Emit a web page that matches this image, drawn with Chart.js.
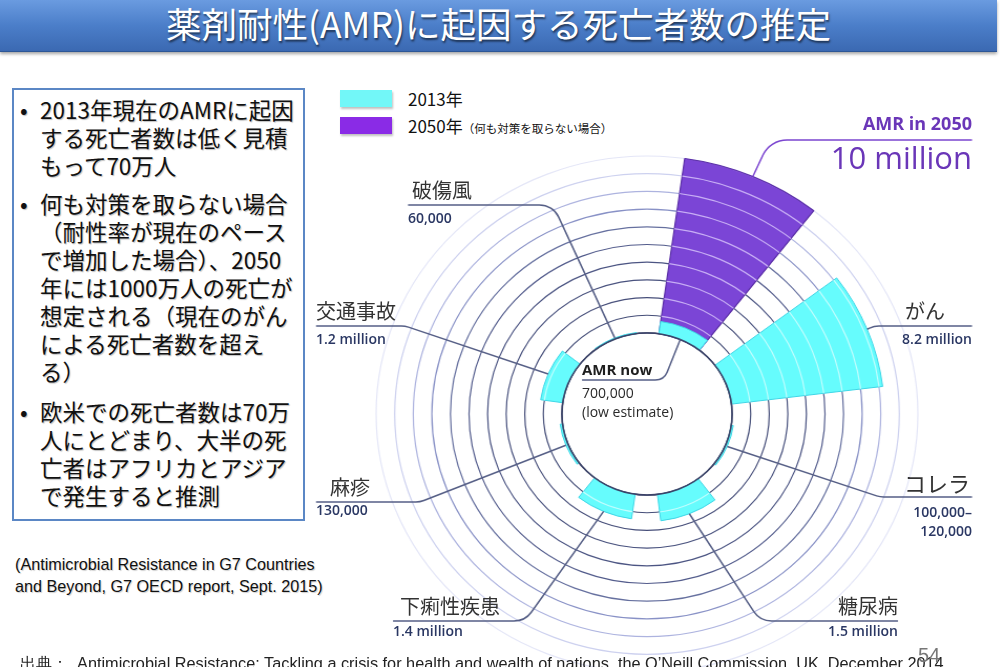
<!DOCTYPE html>
<html lang="ja">
<head>
<meta charset="utf-8">
<script src="https://cdn.jsdelivr.net/npm/chart.js@4.4.0/dist/chart.umd.min.js"></script>
<style>
html,body{margin:0;padding:0;}
body{width:1000px;height:667px;overflow:hidden;position:relative;background:#fff;font-family:"Noto Sans CJK JP","Noto Sans",sans-serif;}
#title{position:absolute;left:0;top:0;width:997px;height:51px;background:linear-gradient(#6a9be0,#4b7ec9 50%,#3b69b2);border-bottom:1px solid #2d5797;box-shadow:0 2px 3px rgba(0,0,0,0.35);color:#fff;font-size:35.5px;line-height:46px;text-align:center;text-shadow:1px 2px 2px rgba(0,0,0,0.55);white-space:nowrap;}
#box{position:absolute;left:12px;top:88px;width:289px;height:429px;border:2px solid #5b87c5;}
#box .it{position:absolute;left:26px;font-size:22.5px;line-height:28px;color:#111;white-space:nowrap;text-shadow:1px 1px 1px rgba(0,0,0,0.25);}
#box .bul{position:absolute;left:-20px;top:0;}
#cite{position:absolute;left:15px;top:553px;font-family:"Liberation Sans Narrow","Liberation Sans",sans-serif;font-size:16.2px;line-height:22px;color:#111;white-space:nowrap;text-shadow:1px 1px 1px rgba(0,0,0,0.2);}
#foot{position:absolute;left:20px;top:652px;font-family:"Liberation Sans Narrow","Liberation Sans",sans-serif;font-size:16.3px;line-height:22px;color:#222;white-space:nowrap;}
#page{position:absolute;left:918px;top:644px;font-family:"Liberation Sans",sans-serif;font-size:20px;color:#777;}
.lg{position:absolute;left:340px;width:52px;height:17px;box-shadow:1px 2px 2px rgba(0,0,0,0.25);}
.lgt{position:absolute;left:408px;font-size:17px;line-height:20px;color:#111;white-space:nowrap;}
.lgt small{font-size:11.5px;}
#wrap{position:absolute;left:300px;top:80px;width:694px;height:620px;transform:scaleX(1.05);transform-origin:50% 50%;}
.nm{position:absolute;font-size:20px;line-height:24px;color:#333;white-space:nowrap;}
.vl{position:absolute;font-family:"Open Sans",sans-serif;font-weight:600;font-size:14px;line-height:18px;color:#2a3763;white-space:nowrap;}
</style>
</head>
<body>
<div id="title">薬剤耐性(AMR)に起因する死亡者数の推定</div>

<div id="box">
  <div class="it" style="top:5px"><span class="bul">•</span>2013年現在のAMRに起因<br>する死亡者数は低く見積<br>もって70万人</div>
  <div class="it" style="top:99px"><span class="bul">•</span>何も対策を取らない場合<br>（耐性率が現在のペース<br>で増加した場合）、2050<br>年には1000万人の死亡が<br>想定される（現在のがん<br>による死亡者数を超え<br>る）</div>
  <div class="it" style="top:307px"><span class="bul">•</span>欧米での死亡者数は70万<br>人にとどまり、大半の死<br>亡者はアフリカとアジア<br>で発生すると推測</div>
</div>

<div id="cite">(Antimicrobial Resistance in G7 Countries<br>and Beyond, G7 OECD report, Sept. 2015)</div>

<div class="lg" style="top:90px;background:#72f7f8"></div>
<div class="lgt" style="top:89px">2013年</div>
<div class="lg" style="top:117px;background:#8a2be6"></div>
<div class="lgt" style="top:116px">2050年<small>（何も対策を取らない場合）</small></div>

<div id="wrap"><canvas id="c"></canvas></div>
<div id="labels"></div>

<div id="foot">出典：&nbsp; Antimicrobial Resistance: Tackling a crisis for health and wealth of nations, the O’Neill Commission, UK, December 2014</div>
<div id="page">54</div>

<script>
// ---------- data (deaths, millions) ----------
const categories   = ['AMR', 'がん', 'コレラ', '糖尿病', '下痢性疾患', '麻疹', '交通事故', '破傷風'];
const deaths2013   = [0.7, 8.2, 0.11, 1.5, 1.4, 0.13, 1.2, 0.06];
const deaths2050   = [10, 0, 0, 0, 0, 0, 0, 0];
const valueLabels  = ['700,000', '8.2 million', '100,000–\n120,000', '1.5 million', '1.4 million', '130,000', '1.2 million', '60,000'];
const ringTicks    = [0, 1, 2, 3, 4, 5, 6, 7, 8, 9, 10];

// ---------- layout / style ----------
const STRETCH = 1.05, WRAP_LEFT = 300, WRAP_TOP = 80, WRAP_W = 694;
const HOLE = -4.58;             // scale minimum so that value 0 sits on the inner circle
const SEG_ANGLE = 30, GAP_ANGLE = 15, START_ANGLE = 8;
const CYAN = '#66fcfd', CYAN_EDGE = '#3fd6e6', PURPLE = '#7b45d6', PURPLE_EDGE = '#5a2ea6';
const ringColors = ['#3b4368', '#454e78', '#474f7a', '#49527e', '#4c5583', '#535c8c', '#66709f', '#8891c6', '#adb3df', '#cdd1ef', '#e4e6f7'];

// label layout (page coordinates): underline y, outer end x, elbow x
const labelLayout = [
  {side: 'L', y: 380, xa: 582, ex: 664, nx: 582, ny: 358, vy: 383, special: 'now'},
  {side: 'R', y: 326, xa: 972, ex: 874, nx: 945, ny: 299, vy: 330},
  {side: 'R', y: 497, xa: 972, ex: 880, nx: 970, ny: 470, vy: 502},
  {side: 'R', y: 621, xa: 898, ex: 760, nx: 898, ny: 594, vy: 622},
  {side: 'L', y: 621, xa: 393, ex: 525, nx: 400, ny: 594, vy: 622},
  {side: 'L', y: 502, xa: 316, ex: 420, nx: 330, ny: 475, vy: 501},
  {side: 'L', y: 326, xa: 316, ex: 405, nx: 316, ny: 299, vy: 330},
  {side: 'L', y: 205, xa: 408, ex: 553, nx: 412, ny: 178, vy: 209}
];
const amr2050Layout = {y: 140, xa: 972, ex: 770};

// ---------- build slots (segment + gap) ----------
const slotLabels = [], slot2013 = [], slot2050 = [], slotAngles = [];
categories.forEach((c, i) => {
  slotLabels.push(c); slot2013.push(deaths2013[i]); slot2050.push(deaths2050[i]); slotAngles.push(SEG_ANGLE);
  slotLabels.push(''); slot2013.push(0); slot2050.push(0); slotAngles.push(GAP_ANGLE);
});
const isGap = ctx => ctx.dataIndex % 2 === 1;

function toCanvas(px, py) {
  return [WRAP_W / 2 + (px - (WRAP_LEFT + WRAP_W / 2)) / STRETCH, py - WRAP_TOP];
}

// ---------- html labels ----------
const lab = document.getElementById('labels');
function addDiv(cls, txt, x, y, side, extra) {
  const d = document.createElement('div');
  d.className = cls; d.innerHTML = txt.replace('\n', '<br>');
  d.style.top = y + 'px';
  if (side === 'R') { d.style.right = (1000 - x) + 'px'; d.style.textAlign = 'right'; }
  else d.style.left = x + 'px';
  if (extra) Object.assign(d.style, extra);
  lab.appendChild(d);
}
labelLayout.forEach((L, i) => {
  if (L.special === 'now') {
    addDiv('vl', 'AMR now', 582, 360, 'L', {fontWeight: '700', fontSize: '15px', color: '#1e1e1e'});
    addDiv('vl', valueLabels[0] + '\n(low estimate)', 582, 383, 'L', {fontWeight: '500', color: '#2a2a2a', lineHeight: '19px'});
    return;
  }
  addDiv('nm', categories[i], L.nx, L.ny, L.side, i === 2 ? {fontSize: '22px'} : null);
  addDiv('vl', valueLabels[i], L.xa, L.vy, L.side, i === 2 ? {lineHeight: '19px'} : null);
});
addDiv('vl', 'AMR in 2050', 972, 112, 'R', {fontWeight: '700', fontSize: '18px', lineHeight: '22px', color: '#6a36b8'});
addDiv('vl', '10 million', 972, 139, 'R', {fontWeight: '400', fontSize: '31px', lineHeight: '36px', color: '#6a36b8'});

// ---------- plugins ----------
const holePlugin = {
  id: 'hole',
  afterDatasetsUpdate(chart) {
    const r0 = chart.scales.r.getDistanceFromCenterForValue(0);
    chart.data.datasets.forEach((ds, d) => {
      chart.getDatasetMeta(d).data.forEach(el => { el.innerRadius = r0; });
    });
  },
  afterDatasetsDraw(chart) {
    const ctx = chart.ctx, sc = chart.scales.r;
    const cx = sc.xCenter, cy = sc.yCenter;
    // light ring lines seen through the filled segments
    [1, 0].forEach(d => {
      chart.getDatasetMeta(d).data.forEach((el, i) => {
        if (i % 2 === 1 || el.outerRadius - el.innerRadius < 3) return;
        ctx.save();
        ctx.beginPath();
        ctx.arc(cx, cy, el.outerRadius - 1, el.startAngle, el.endAngle);
        ctx.arc(cx, cy, el.innerRadius + 1, el.endAngle, el.startAngle, true);
        ctx.closePath();
        ctx.clip();
        ctx.strokeStyle = d === 1 ? 'rgba(225,210,255,0.75)' : 'rgba(255,255,255,0.6)';
        ctx.lineWidth = 1.2;
        ringTicks.slice(1).forEach(v => {
          ctx.beginPath();
          ctx.arc(cx, cy, sc.getDistanceFromCenterForValue(v), 0, Math.PI * 2);
          ctx.stroke();
        });
        ctx.restore();
      });
    });
    // inner circle
    ctx.save();
    ctx.strokeStyle = ringColors[0];
    ctx.lineWidth = 1.6;
    ctx.beginPath();
    ctx.arc(cx, cy, sc.getDistanceFromCenterForValue(0), 0, Math.PI * 2);
    ctx.stroke();
    ctx.restore();

    // leader lines
    const m13 = chart.getDatasetMeta(0), m50 = chart.getDatasetMeta(1);
    function target(el, useInner) {
      const a = (el.startAngle + el.endAngle) / 2;
      const r = useInner ? el.innerRadius : el.outerRadius;
      return [cx + Math.cos(a) * r, cy + Math.sin(a) * r];
    }
    function leader(L, tgt, color, rad) {
      const a = toCanvas(L.xa, L.y), e = toCanvas(L.ex, L.y);
      ctx.save();
      ctx.strokeStyle = color; ctx.lineWidth = 1.5;
      ctx.beginPath();
      ctx.moveTo(a[0], a[1]);
      ctx.arcTo(e[0], e[1], tgt[0], tgt[1], rad);
      ctx.lineTo(tgt[0], tgt[1]);
      ctx.stroke();
      ctx.restore();
    }
    labelLayout.forEach((L, i) => {
      const el = m13.data[i * 2];
      const useInner = L.special === 'now';
      leader(L, target(el, useInner), '#565f86', useInner ? 12 : 20);
    });
    leader(amr2050Layout, target(m50.data[0], false), '#7b45d0', 25);
  }
};

new Chart(document.getElementById('c'), {
  type: 'polarArea',
  data: {
    labels: slotLabels,
    datasets: [
      {
        label: '2013年',
        data: slot2013,
        angle: ctx => slotAngles[ctx.dataIndex],
        backgroundColor: ctx => isGap(ctx) ? 'rgba(0,0,0,0)' : CYAN,
        borderColor: ctx => isGap(ctx) ? 'rgba(0,0,0,0)' : CYAN_EDGE,
        borderWidth: ctx => isGap(ctx) ? 0 : 1
      },
      {
        label: '2050年',
        data: slot2050,
        angle: ctx => slotAngles[ctx.dataIndex],
        backgroundColor: ctx => (isGap(ctx) || !ctx.raw) ? 'rgba(0,0,0,0)' : PURPLE,
        borderColor: ctx => (isGap(ctx) || !ctx.raw) ? 'rgba(0,0,0,0)' : PURPLE_EDGE,
        borderWidth: ctx => (isGap(ctx) || !ctx.raw) ? 0 : 1.2
      }
    ]
  },
  options: {
    responsive: true,
    maintainAspectRatio: false,
    animation: false,
    events: [],
    layout: {padding: {top: 76, bottom: 28, left: 20, right: 20}},
    plugins: {legend: {display: false}, tooltip: {enabled: false}},
    scales: {
      r: {
        min: HOLE,
        max: 10,
        beginAtZero: false,
        startAngle: START_ANGLE,
        ticks: {display: false, stepSize: 1},
        angleLines: {display: false},
        pointLabels: {display: false},
        grid: {
          circular: true,
          lineWidth: 1.2,
          color: ctx => {
            const v = ctx.tick ? ctx.tick.value : -1;
            if (v < -1e-6 || Math.abs(v - Math.round(v)) > 1e-6) return 'rgba(0,0,0,0)';
            return ringColors[Math.round(v)] || 'rgba(0,0,0,0)';
          }
        }
      }
    }
  },
  plugins: [holePlugin]
});
</script>
</body>
</html>
